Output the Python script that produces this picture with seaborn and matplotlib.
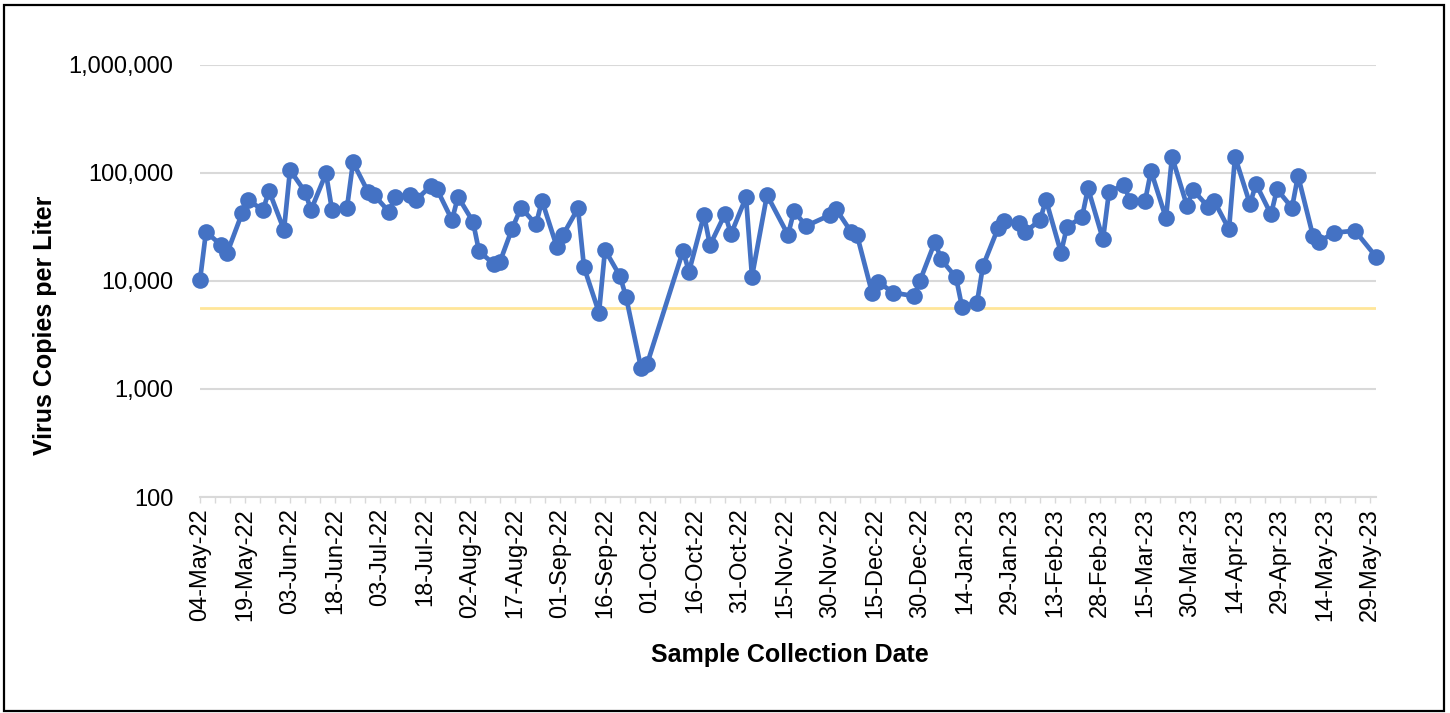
import pandas as pd
import seaborn as sns
import matplotlib.pyplot as plt
import matplotlib.dates as mdates
from matplotlib.ticker import FuncFormatter, NullLocator
from matplotlib.patches import Rectangle

# sample collection dates (twice weekly)
sample_dates = [
    '2022-05-04', '2022-05-06', '2022-05-11', '2022-05-13', '2022-05-18', '2022-05-20',
    '2022-05-25', '2022-05-27', '2022-06-01', '2022-06-03', '2022-06-08', '2022-06-10',
    '2022-06-15', '2022-06-17', '2022-06-22', '2022-06-24', '2022-06-29', '2022-07-01',
    '2022-07-06', '2022-07-08', '2022-07-13', '2022-07-15', '2022-07-20', '2022-07-22',
    '2022-07-27', '2022-07-29', '2022-08-03', '2022-08-05', '2022-08-10', '2022-08-12',
    '2022-08-16', '2022-08-19', '2022-08-24', '2022-08-26', '2022-08-31', '2022-09-02',
    '2022-09-07', '2022-09-09', '2022-09-14', '2022-09-16', '2022-09-21', '2022-09-23',
    '2022-09-28', '2022-09-30', '2022-10-12', '2022-10-14', '2022-10-19', '2022-10-21',
    '2022-10-26', '2022-10-28', '2022-11-02', '2022-11-04', '2022-11-09', '2022-11-16',
    '2022-11-18', '2022-11-22', '2022-11-30', '2022-12-02', '2022-12-07', '2022-12-09',
    '2022-12-14', '2022-12-16', '2022-12-21', '2022-12-28', '2022-12-30', '2023-01-04',
    '2023-01-06', '2023-01-11', '2023-01-13', '2023-01-18', '2023-01-20', '2023-01-25',
    '2023-01-27', '2023-02-01', '2023-02-03', '2023-02-08', '2023-02-10', '2023-02-15',
    '2023-02-17', '2023-02-22', '2023-02-24', '2023-03-01', '2023-03-03', '2023-03-08',
    '2023-03-10', '2023-03-15', '2023-03-17', '2023-03-22', '2023-03-24', '2023-03-29',
    '2023-03-31', '2023-04-05', '2023-04-07', '2023-04-12', '2023-04-14', '2023-04-19',
    '2023-04-21', '2023-04-26', '2023-04-28', '2023-05-03', '2023-05-05', '2023-05-10',
    '2023-05-12', '2023-05-17', '2023-05-24', '2023-05-31',
]

# virus copies per liter
copies_per_liter = [
    10200, 28600, 21500, 18000, 42300, 56200,
    45400, 68500, 29700, 106600, 67100, 45400,
    99300, 45400, 47700, 125600, 67100, 62600,
    43800, 60300, 62600, 56200, 76300, 70600,
    36700, 60300, 35400, 18900, 14300, 15100,
    30300, 47700, 33500, 55400, 20500, 26700,
    47100, 13400, 5090, 19400, 11100, 7160,
    1575, 1690, 19000, 12200, 40800, 21500,
    41700, 27200, 59600, 11000, 62600, 26700,
    44500, 32300, 40800, 46400, 28600, 26700,
    7800, 9860, 7800, 7260, 10070, 23100,
    15900, 10800, 5780, 6300, 13800, 30800,
    35900, 34200, 28200, 36700, 56200, 18300,
    31800, 38900, 72100, 24300, 67100, 77400,
    55000, 54500, 104400, 38100, 141600, 49500,
    69600, 48800, 55400, 30100, 141600, 51600,
    79100, 41400, 70600, 47700, 94400, 26100,
    23100, 28000, 29200, 16800,
]

threshold = 5600

df = pd.DataFrame({'date': pd.to_datetime(sample_dates), 'copies': copies_per_liter})

sns.set_style('white')
plt.rcParams['font.family'] = ['Liberation Sans', 'DejaVu Sans']
plt.rcParams['text.color'] = 'black'
plt.rcParams['xtick.labelcolor'] = 'black'
plt.rcParams['ytick.labelcolor'] = 'black'

fig = plt.figure(figsize=(14.5, 7.13), dpi=100)
ax = fig.add_axes([200 / 1450, 1 - 497 / 713, 1176 / 1450, 432 / 713])

ax.axhline(threshold, color='#FFE699', lw=2, zorder=1)
sns.lineplot(data=df, x='date', y='copies', ax=ax, color='#4472C4', linewidth=3.4,
             marker='o', markersize=12, markeredgewidth=0, zorder=3)
ax.lines[-1].set_clip_on(False)

ax.set_yscale('log')
ax.set_ylim(100, 1_000_000)
ax.set_yticks([100, 1000, 10000, 100000, 1000000])
ax.yaxis.set_minor_locator(NullLocator())
ax.yaxis.set_major_formatter(FuncFormatter(lambda v, p: f'{v:,.0f}'))
ax.yaxis.grid(True, color='#D9D9D9', lw=1.5, zorder=0)
ax.set_axisbelow(True)

ax.set_xlim(df['date'].min(), df['date'].max())
ax.set_xticks(pd.date_range('2022-05-04', '2023-05-29', freq='15D'))
ax.set_xticks(pd.date_range('2022-05-04', '2023-05-31', freq='5D'), minor=True)
ax.xaxis.set_major_formatter(mdates.DateFormatter('%d-%b-%y'))

ax.tick_params(axis='x', which='both', direction='out', length=4.5, width=1,
               color='#D9D9D9', bottom=True, labelsize=17, labelrotation=90, pad=3.5)
ax.tick_params(axis='y', length=0, labelsize=17, pad=19)

for side in ['left', 'top', 'right']:
    ax.spines[side].set_visible(False)
ax.spines['bottom'].set_color('#D9D9D9')
ax.spines['bottom'].set_linewidth(1.5)

ax.set_xlabel('')
ax.set_ylabel('')
fig.text(790 / 1450, 1 - 655 / 713, 'Sample Collection Date', fontsize=18,
         fontweight='bold', ha='center', va='center', color='black')
fig.text(45 / 1450, 1 - 325 / 713, 'Virus Copies per Liter', fontsize=18,
         fontweight='bold', ha='center', va='center', rotation=90, color='black')

fig.patches.append(Rectangle((4 / 1450, 2 / 713), 1440 / 1450, 706 / 713,
                             transform=fig.transFigure, fill=False,
                             edgecolor='black', lw=1.6))

fig.savefig('out.png', dpi=100)
